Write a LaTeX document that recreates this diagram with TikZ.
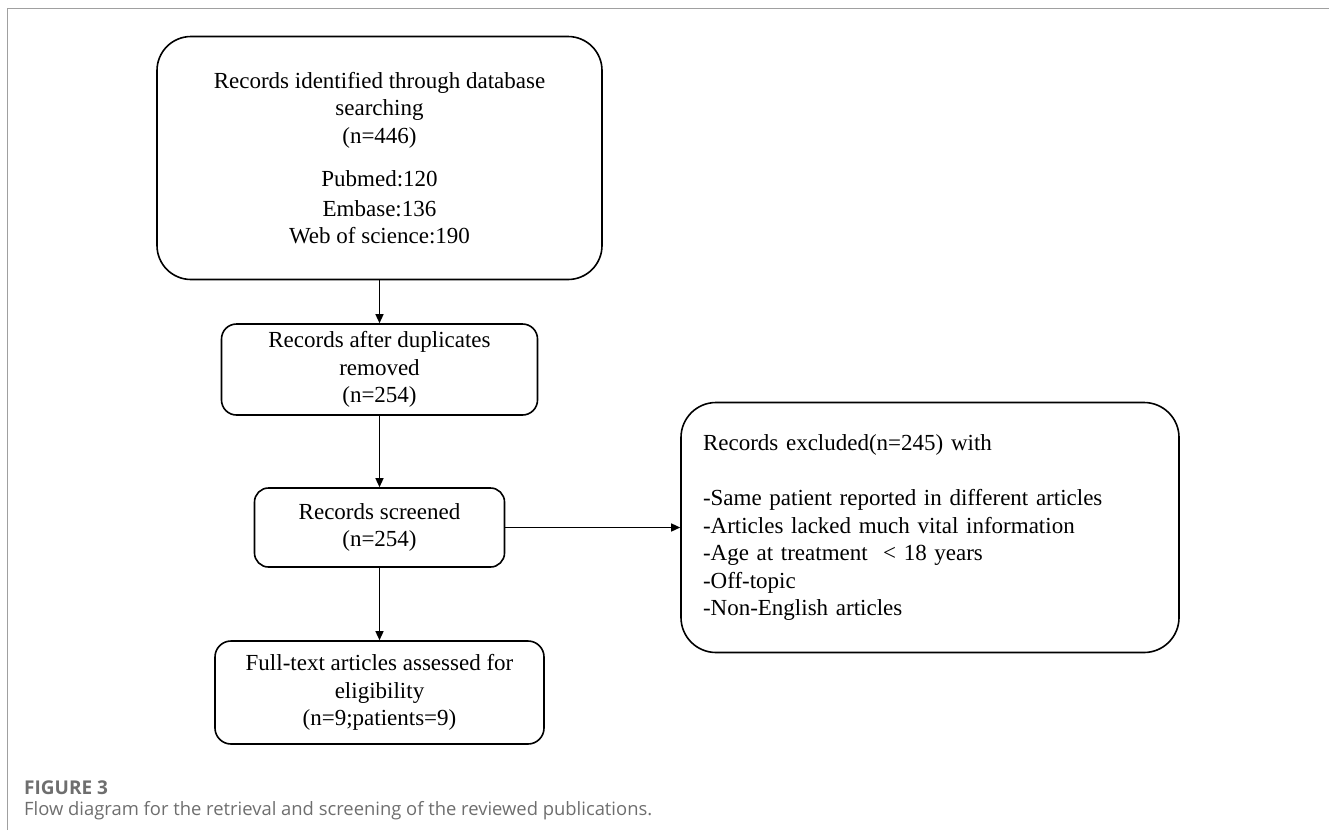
\documentclass[tikz,border=0pt]{standalone}
\usepackage{fontspec}
\setmainfont{Liberation Serif}
\newfontfamily\capfont{Open Sans}
\usetikzlibrary{positioning,arrows.meta}
\definecolor{FrameGray}{HTML}{A0A0A0}
\definecolor{CapGray}{HTML}{6E6E6E}

\begin{document}
\begin{tikzpicture}[x=1pt,y=-1pt,
      box/.style={draw,line width=1.6pt,align=center,inner sep=0pt,
        font=\fontsize{23}{27.5}\selectfont},
      edge/.style={-{Triangle[length=9pt,width=8pt]},line width=1.3pt},
      frame/.style={draw=FrameGray,line width=1pt}
    ]
    \useasboundingbox (0,0) rectangle (1329,830);
    \draw[frame] (7,830) -- (7,8) -- (1329,8);
    % left column
    \node[box,rounded corners=34pt,minimum width=445pt,minimum height=243pt] (ident) at (379.5,158)
      {Records identified through database\\searching\\(n=446)\\[16pt]Pubmed:120\\[2pt]Embase:136\\Web of science:190};
    \node[box,rounded corners=15pt,minimum width=316pt,minimum height=91pt] (dedup) at (379.5,369.5)
      {Records after duplicates\\removed\\(n=254)};
    \node[box,rounded corners=14pt,minimum width=250pt,minimum height=79pt] (screen) at (379.5,527.5)
      {Records screened\\(n=254)};
    \node[box,rounded corners=16pt,minimum width=329pt,minimum height=103pt] (full) at (379.5,692.5)
      {Full-text articles assessed for\\eligibility\\(n=9;patients=9)};
    % exclusions
    \node[box,rounded corners=35pt,minimum width=498pt,minimum height=250pt,
      text width=454pt,align=left] (excl) at (930,527.5)
      {Records excluded(n=245) with\\[27.5pt]
       -Same patient reported in different articles\\
       -Articles lacked much vital information\\
       -Age at treatment\ \ < 18 years\\
       -Off-topic\\
       -Non-English articles};
    \draw[edge] (ident) -- (dedup);
    \draw[edge] (dedup) -- (screen);
    \draw[edge] (screen) -- (full);
    \draw[edge] (screen) -- (excl);
    % caption
    \node[anchor=base west,inner sep=0pt,text=CapGray,font=\capfont\bfseries\fontsize{19}{22}\selectfont] (fig) at (24,794) {FIGURE 3};
    \node[anchor=base west,inner sep=0pt,text=CapGray,font=\capfont\fontsize{18.4}{22}\selectfont] (cap) at (24,815)
      {Flow diagram for the retrieval and screening of the reviewed publications.};
  \end{tikzpicture}
\end{document}
